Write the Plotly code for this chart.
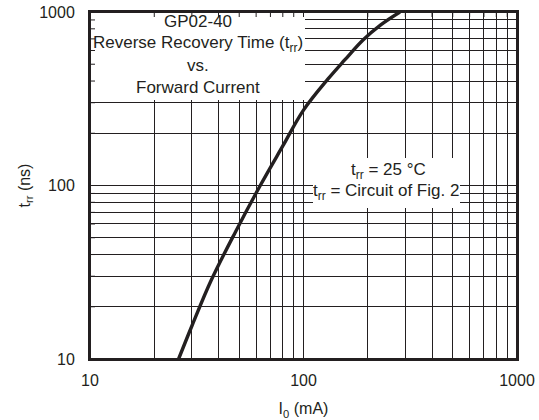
import plotly.graph_objects as go
import math

# Data
current_ma = [26, 30, 37, 48, 63, 80, 100, 130, 156, 190, 230, 283]
trr_ns = [10, 15.5, 28.5, 54, 101, 169, 272, 410, 529, 690, 843, 1000]

grid_vals = [10, 20, 30, 40, 50, 60, 70, 80, 90,
             100, 200, 300, 400, 500, 600, 700, 800, 900, 1000]
decade_labels = {10: "10", 100: "100", 1000: "1000"}
tick_text = [decade_labels.get(v, "") for v in grid_vals]

title_lines = ["GP02-40", "Reverse Recovery Time (t<sub>rr</sub>)", "vs.", "Forward Current"]
cond_lines = ["t<sub>rr</sub> = 25 °C", "t<sub>rr</sub> = Circuit of Fig. 2"]

W, H = 539, 420
# plot area in pixels
L, R, T, B = 90, 517, 12, 359
LOG_MIN, LOG_MAX = 1, 3


def px(xp):
    return (xp - L) / (R - L)


def py(yp):
    return (B - yp) / (B - T)


def frac(v):
    return (math.log10(v) - LOG_MIN) / (LOG_MAX - LOG_MIN)


FONT = "Liberation Sans, Arial, Helvetica, sans-serif"
INK = "#231f20"
TICKLEN = 5

fig = go.Figure()
fig.add_trace(go.Scatter(
    x=current_ma, y=trr_ns, mode="lines",
    line=dict(color=INK, width=3.4, shape="spline", smoothing=1.0),
    showlegend=False, hoverinfo="skip",
))

axis_common = dict(
    type="log", range=[LOG_MIN, LOG_MAX], automargin=False,
    tickvals=grid_vals, ticktext=tick_text,
    ticks="inside", ticklen=TICKLEN, tickwidth=1, tickcolor=INK,
    showgrid=True, gridcolor=INK, gridwidth=1,
    showline=True, linecolor=INK, linewidth=2, mirror="ticks",
    zeroline=False, ticklabeloverflow="allow",
    tickfont=dict(family=FONT, size=16, color=INK),
)

fig.update_xaxes(**axis_common, ticklabelstandoff=6,
                 title=dict(text="I<sub>0</sub> (mA)", font=dict(family=FONT, size=16, color=INK), standoff=15))
fig.update_yaxes(**axis_common, ticklabelstandoff=10,
                 title=dict(text="t<sub>rr</sub> (ns)", font=dict(family=FONT, size=16, color=INK), standoff=5))

# white label boxes covering the grid
boxes = [(L, 305, T, 100), (313, 460, 158, 208)]
shapes = []
for x0, x1, y0, y1 in boxes:
    shapes.append(dict(type="rect", xref="paper", yref="paper", x0=px(x0), x1=px(x1),
                       y0=py(y1), y1=py(y0), fillcolor="white", line=dict(width=0), layer="above"))

# restore inside tick marks on the frame (top and left) over the white boxes
for v in grid_vals:
    f = frac(v)
    shapes.append(dict(type="line", xref="paper", yref="paper", x0=f, x1=f,
                       ysizemode="pixel", yanchor=1, y0=0, y1=-TICKLEN,
                       line=dict(color=INK, width=1), layer="above"))
    shapes.append(dict(type="line", xref="paper", yref="paper", y0=f, y1=f,
                       xsizemode="pixel", xanchor=0, x0=0, x1=TICKLEN,
                       line=dict(color=INK, width=1), layer="above"))

# frame redrawn on top
shapes.append(dict(type="rect", xref="paper", yref="paper", x0=0, x1=1, y0=0, y1=1,
                   line=dict(color=INK, width=2), fillcolor="rgba(0,0,0,0)", layer="above"))

annotations = []
for text, yp in zip(title_lines, [21, 44, 66, 88]):
    annotations.append(dict(text=text, xref="paper", yref="paper", x=px(198), y=py(yp),
                            xanchor="center", yanchor="middle", showarrow=False,
                            font=dict(family=FONT, size=17, color=INK)))
for text, xp, yp in zip(cond_lines, [388, 386], [171, 192]):
    annotations.append(dict(text=text, xref="paper", yref="paper", x=px(xp), y=py(yp),
                            xanchor="center", yanchor="middle", showarrow=False,
                            font=dict(family=FONT, size=17, color=INK)))

fig.update_layout(
    width=W, height=H,
    margin=dict(l=L, r=W - R, t=T, b=H - B),
    paper_bgcolor="white", plot_bgcolor="white",
    shapes=shapes, annotations=annotations,
)

fig.write_html("out.html",
               config={"displayModeBar": False},
               post_script="document.body.style.margin='0';document.body.style.overflow='hidden';")
